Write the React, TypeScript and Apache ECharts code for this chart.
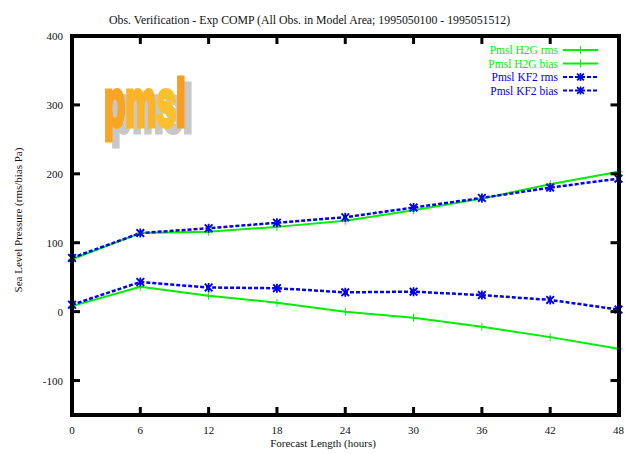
import React, { useEffect, useRef } from "react";
import * as echarts from "echarts";

const hours = [0, 6, 12, 18, 24, 30, 36, 42, 48];
const h2gRms = [76, 114, 116, 123, 132, 147, 164, 185, 203];
const h2gBias = [8, 36, 23, 13, 0, -9, -22, -37, -54];
const kf2Rms = [78, 114, 121, 129, 137, 151, 165, 180, 193];
const kf2Bias = [10, 43, 35, 34, 28, 29, 24, 17, 3];
const yLabels = [-100, 0, 100, 200, 300, 400];
const yTicks = [-100, 0, 100, 200, 300];
const xTicks = [6, 12, 18, 24, 30, 36, 42];
const logoLetters = ["p", "m", "s", "l"];

const SERIF = "'Liberation Serif', 'DejaVu Serif', serif";
const PLUS = "path://M-0.6,-5H0.6V-0.6H5V0.6H0.6V5H-0.6V0.6H-5V-0.6H-0.6Z";
const STAR = "path://M-5,-3.5L-3.5,-5L0,-1.5L3.5,-5L5,-3.5L1.5,0L5,3.5L3.5,5L0,1.5L-3.5,5L-5,3.5L-1.5,0Z M-1,-5H1V5H-1Z";
const LOGO_FONT = "bold 66px 'Liberation Sans', Arial, sans-serif";

export default function App() {
  const ref = useRef<HTMLDivElement>(null);
  useEffect(() => {
    if (!ref.current) return;
    const chart = echarts.init(ref.current, null, { renderer: "svg" });
    const mk = (d: number[]) => hours.map((h, i) => [h, d[i]]);
    const green = "#00ee00";
    const blue = "#0000ee";
    const greenSeries = (name: string, d: number[]) => ({
      name,
      type: "line",
      data: mk(d),
      symbol: PLUS,
      symbolSize: 8,
      itemStyle: { color: green },
      lineStyle: { color: green, width: 2 },
      clip: false,
    });
    const blueSeries = (name: string, d: number[]) => ({
      name,
      type: "line",
      data: mk(d),
      symbol: STAR,
      symbolSize: 9,
      itemStyle: { color: blue },
      lineStyle: { color: blue, width: 2.5, type: [4, 2] },
      clip: false,
    });
    // frame tick marks: positions come from the axes' scales via api.coord
    const tickData = [
      ...xTicks.map((v) => [v, -150, 0]),
      ...xTicks.map((v) => [v, 400, 1]),
      ...yTicks.map((v) => [0, v, 2]),
      ...yTicks.map((v) => [48, v, 3]),
    ];
    const tickSeries = {
      type: "custom",
      data: tickData,
      silent: true,
      clip: false,
      z: 20,
      renderItem: (params: any, api: any) => {
        const p = api.coord([api.value(0), api.value(1)]);
        const side = api.value(2);
        let shape;
        if (side === 0) shape = { x: p[0] - 1.5, y: p[1] - 8, width: 3, height: 8 };
        else if (side === 1) shape = { x: p[0] - 1.5, y: p[1], width: 3, height: 8 };
        else if (side === 2) shape = { x: p[0], y: p[1] - 1.5, width: 8, height: 3 };
        else shape = { x: p[0] - 8, y: p[1] - 1.5, width: 8, height: 3 };
        return { type: "rect", shape, style: { fill: "#000" } };
      },
    };
    const line = { show: true, onZero: false, lineStyle: { color: "#000", width: 4, cap: "square" } };
    const yBase = {
      type: "value",
      min: -150,
      max: 400,
      splitLine: { show: false },
      axisLine: line,
      axisTick: { show: false },
      z: 5,
    };
    const xBase = {
      type: "value",
      min: 0,
      max: 48,
      interval: 6,
      splitLine: { show: false },
      axisLine: line,
      axisTick: { show: false },
      z: 5,
    };
    const adv = [0.611, 0.889, 0.556, 0.278];
    const colors = ["#f9a524", "#fbb42a", "#fcc02e", "#f79d21"];
    const sx = 0.53;
    const logo: any[] = [];
    let cx = 104;
    logoLetters.forEach((ch, i) => {
      logo.push({
        type: "text",
        x: cx + 7,
        y: 76,
        scaleX: sx,
        z: 1,
        style: { text: ch, font: LOGO_FONT, fill: "#c8c8c8", stroke: "#c8c8c8", lineWidth: 5, verticalAlign: "top" },
      });
      logo.push({
        type: "text",
        x: cx,
        y: 70,
        scaleX: sx,
        z: 2,
        style: { text: ch, font: LOGO_FONT, fill: colors[i], stroke: colors[i], lineWidth: 5, verticalAlign: "top" },
      });
      cx += adv[i] * 66 * sx;
    });
    chart.setOption({
      animation: false,
      backgroundColor: "#ffffff",
      title: {
        text: "Obs. Verification - Exp COMP (All Obs. in Model Area; 1995050100 - 1995051512)",
        left: 104,
        top: 9,
        textStyle: { fontFamily: SERIF, fontSize: 11.8, fontWeight: "normal", color: "#111" },
      },
      legend: {
        orient: "vertical",
        align: "right",
        right: 28,
        top: 44,
        padding: 0,
        itemWidth: 35,
        itemHeight: 10,
        itemGap: 1.5,
        data: [
          { name: "Pmsl H2G rms", textStyle: { color: green } },
          { name: "Pmsl H2G bias", textStyle: { color: green } },
          { name: "Pmsl KF2 rms", textStyle: { color: blue } },
          { name: "Pmsl KF2 bias", textStyle: { color: blue } },
        ],
        textStyle: { fontFamily: SERIF, fontSize: 11.5 },
      },
      grid: {
        left: 72,
        right: 6,
        top: 36,
        bottom: 39,
        show: false,
      },
      xAxis: [
        {
          ...xBase,
          position: "bottom",
          axisLabel: { fontFamily: SERIF, fontSize: 11, color: "#111", margin: 9 },
        },
        {
          ...xBase,
          position: "top",
          axisLabel: { show: false },
        },
      ],
      yAxis: [
        {
          ...yBase,
          position: "left",
          axisLabel: {
            fontFamily: SERIF,
            fontSize: 11,
            color: "#111",
            margin: 9,
            customValues: yLabels,
          },
        },
        {
          ...yBase,
          position: "right",
          axisLabel: { show: false },
        },
      ],
      graphic: [
        {
          type: "text",
          x: 323,
          y: 443,
          style: {
            text: "Forecast Length (hours)",
            font: "11px " + SERIF,
            fill: "#111",
            align: "center",
            verticalAlign: "middle",
          },
        },
        {
          type: "text",
          x: 18,
          y: 220,
          rotation: Math.PI / 2,
          style: {
            text: "Sea Level Pressure (rms/bias Pa)",
            font: "11px " + SERIF,
            fill: "#111",
            align: "center",
            verticalAlign: "middle",
          },
        },
        ...logo,
      ],
      series: [
        tickSeries,
        greenSeries("Pmsl H2G rms", h2gRms),
        greenSeries("Pmsl H2G bias", h2gBias),
        blueSeries("Pmsl KF2 rms", kf2Rms),
        blueSeries("Pmsl KF2 bias", kf2Bias),
      ],
    });
    return () => chart.dispose();
  }, []);
  return <div ref={ref} style={{ width: 627, height: 454, position: "absolute", left: 0, top: 0 }} />;
}
